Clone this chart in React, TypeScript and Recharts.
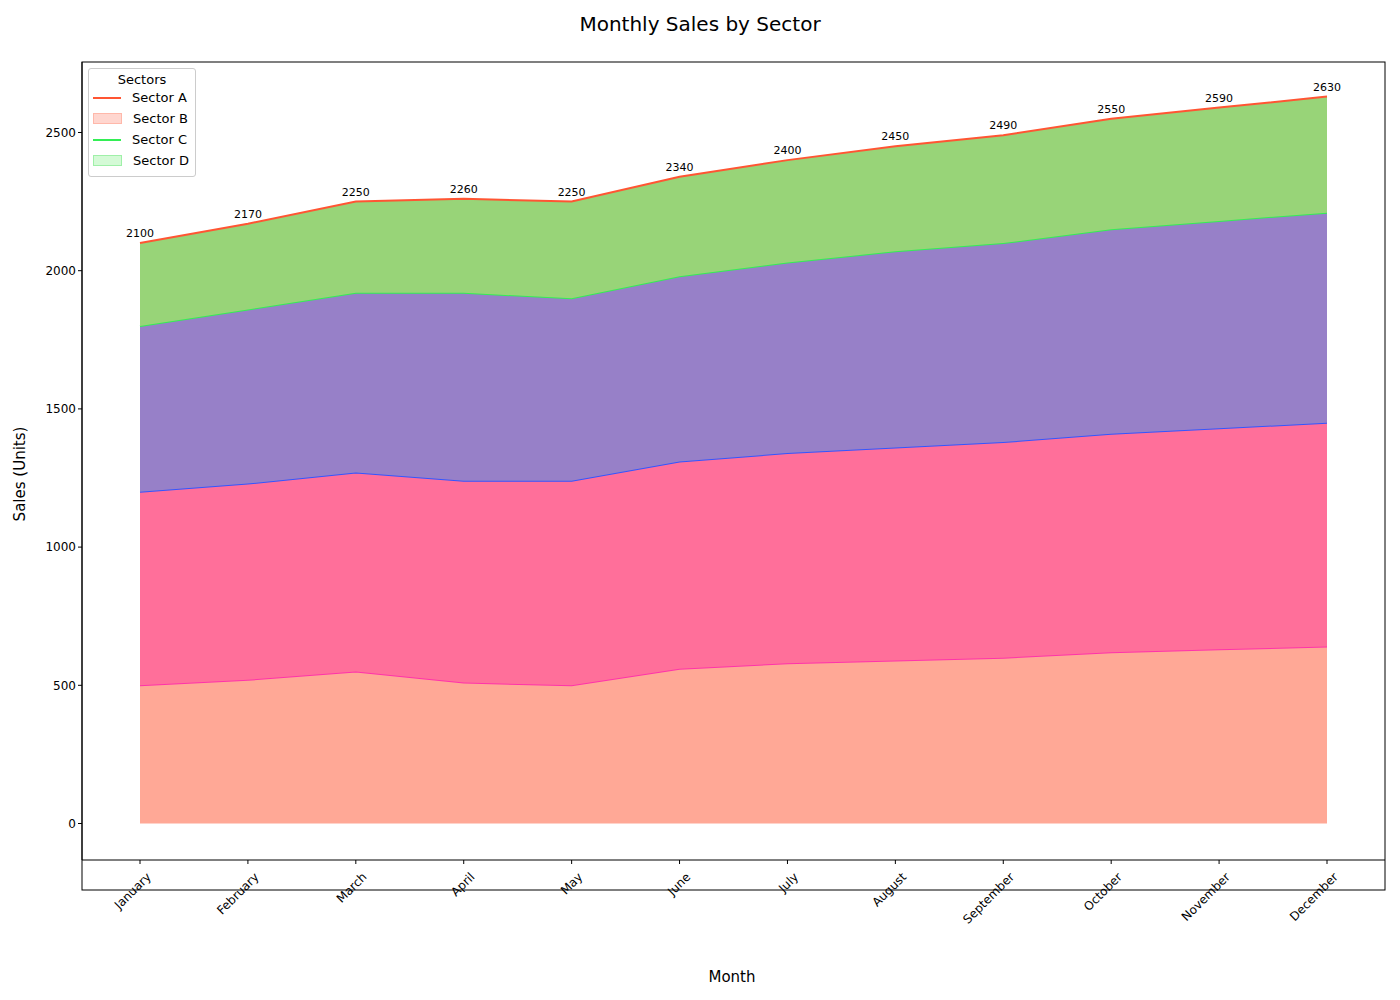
import { Area, AreaChart, CartesianGrid, LabelList, XAxis, YAxis } from "recharts";

const months = ["January", "February", "March", "April", "May", "June", "July", "August", "September", "October", "November", "December"];
const sectorA = [500, 520, 550, 510, 500, 560, 580, 590, 600, 620, 630, 640];
const sectorB = [700, 710, 720, 730, 740, 750, 760, 770, 780, 790, 800, 810];
const sectorC = [600, 630, 650, 680, 660, 670, 690, 710, 720, 740, 750, 760];
const sectorD = [300, 310, 330, 340, 350, 360, 370, 380, 390, 400, 410, 420];
const yTicks = [0, 500, 1000, 1500, 2000, 2500];

const data = months.map((m, i) => ({
  month: m,
  a: sectorA[i],
  b: sectorB[i],
  c: sectorC[i],
  d: sectorD[i],
  total: sectorA[i] + sectorB[i] + sectorC[i] + sectorD[i],
}));

const font = "DejaVu Sans, sans-serif";

const MonthTick = (props: any) => {
  const { x, y, payload } = props;
  return (
    <text x={x + 6} y={y + 6} transform={`rotate(-45 ${x + 6} ${y + 6})`} textAnchor="end" fontSize={12} fill="#000" fontFamily={font} dy={8}>
      {payload.value}
    </text>
  );
};

const TotalLabel = (props: any) => {
  const { x, y, value } = props;
  return (
    <text x={x} y={y - 6} textAnchor="middle" fontSize={11} fill="#000" fontFamily={font}>
      {value}
    </text>
  );
};

export default function App() {
  return (
    <div style={{ position: "absolute", left: 0, top: 0, width: 1400, height: 1000, background: "#fff", fontFamily: font }}>
      <div style={{ position: "absolute", top: 12, width: 1400, textAlign: "center", fontSize: 20 }}>
        Monthly Sales by Sector
      </div>
      <AreaChart width={1400} height={1000} data={data} margin={{ top: 62, right: 15, bottom: 110, left: 10 }}>
        <CartesianGrid stroke="none" />
        <XAxis
          dataKey="month"
          padding={{ left: 58, right: 58 }}
          tick={<MonthTick />}
          tickSize={4}
          stroke="#000"
          interval={0}
        />
        <YAxis
          width={72}
          domain={[-132, 2755]}
          ticks={yTicks}
          tickSize={4}
          stroke="#000"
          tick={{ fontSize: 12, fill: "#000", fontFamily: font }}
        />
        <Area isAnimationActive={false} type="linear" dataKey="a" stackId="1" fill="#FFA896" fillOpacity={1} stroke="#FF33AA" strokeWidth={2} />
        <Area isAnimationActive={false} type="linear" dataKey="b" stackId="1" fill="#FF6F9A" fillOpacity={1} stroke="#3355FF" strokeWidth={2} />
        <Area isAnimationActive={false} type="linear" dataKey="c" stackId="1" fill="#9780C8" fillOpacity={1} stroke="#33EE55" strokeWidth={2} />
        <Area isAnimationActive={false} type="linear" dataKey="d" stackId="1" fill="#98D478" fillOpacity={1} stroke="#FF5533" strokeWidth={2}>
          <LabelList dataKey="total" content={<TotalLabel />} />
        </Area>
        <rect x={82} y={62} width={1303} height={828} fill="none" stroke="#000" strokeWidth={1} />
      </AreaChart>
      <div style={{ position: "absolute", top: 968, width: 1400, left: 32, textAlign: "center", fontSize: 15 }}>Month</div>
      <div style={{ position: "absolute", left: -40, top: 465, width: 120, textAlign: "center", fontSize: 15, transform: "rotate(-90deg)" }}>
        Sales (Units)
      </div>
      <div style={{ position: "absolute", left: 88, top: 68, width: 108, height: 109, border: "1px solid #ccc", borderRadius: 3, background: "rgba(255,255,255,0.85)", fontSize: 13, boxSizing: "border-box" }}>
        <div style={{ textAlign: "center", marginTop: 3 }}>Sectors</div>
        {[
          { n: "Sector A", t: "line", c: "#FF5533" },
          { n: "Sector B", t: "patch", c: "#FFD6CF", b: "#FFB8AA" },
          { n: "Sector C", t: "line", c: "#33EE55" },
          { n: "Sector D", t: "patch", c: "#D4FAD6", b: "#9FF0A8" },
        ].map((e) => (
          <div key={e.n} style={{ display: "flex", alignItems: "center", height: 21, paddingLeft: 4 }}>
            {e.t === "line" ? (
              <div style={{ width: 28, height: 2, background: e.c, marginRight: 11 }} />
            ) : (
              <div style={{ width: 27, height: 9, background: e.c, border: `1px solid ${e.b}`, marginRight: 11 }} />
            )}
            {e.n}
          </div>
        ))}
      </div>
    </div>
  );
}
